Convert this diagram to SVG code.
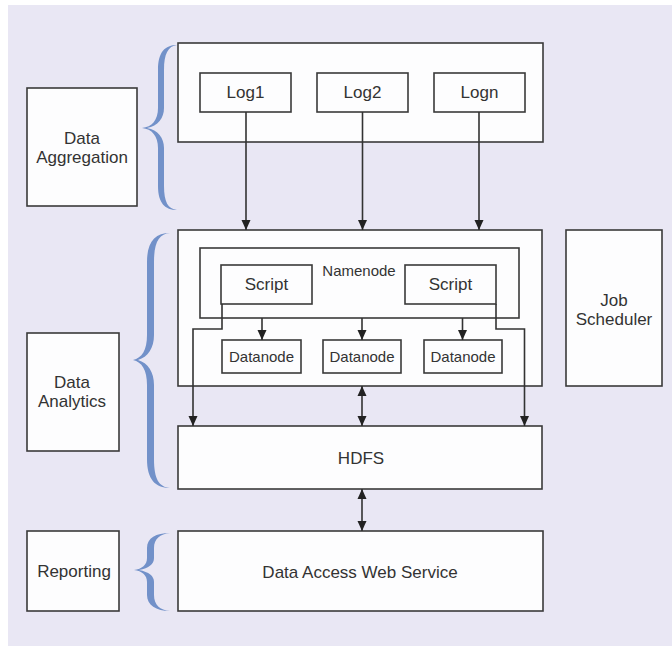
<svg xmlns="http://www.w3.org/2000/svg" width="672" height="646" viewBox="0 0 672 646">
<defs>
<style>
.bg{fill:#e9e7f4}
.box{fill:#fdfdfe;stroke:#3a3a3a;stroke-width:1.6}
.inner{fill:none;stroke:#3a3a3a;stroke-width:1.6}
.t{font-family:"Liberation Sans",Arial,sans-serif;font-size:17px;fill:#333;text-anchor:middle}
.s{font-size:15px}
.brace{fill:#7291c9}
.c{fill:none;stroke:#333;stroke-width:1.6}
</style>
<marker id="ah" markerWidth="10" markerHeight="12" refX="10" refY="6" orient="auto-start-reverse" markerUnits="userSpaceOnUse">
<path d="M0,1.5 L10,6 L0,10.5 Z" fill="#222"/>
</marker>
</defs>
<rect x="0" y="0" width="672" height="646" fill="#ffffff"/>
<rect class="bg" x="8" y="5" width="664" height="641"/>

<g id="braces">
<path class="brace" d="M177,45 C165,45 158,52 158,70 L158,108 C158,120 152,127 142,128 C152,129 158,136 158,148 L158,186 C158,203 165,210 177,210 C168,209 164,202 164,186 L164,148 C164,138 158,130 147,128 C158,126 164,118 164,108 L164,70 C164,54 168,46 177,45 Z"/>
<path class="brace" d="M170,233 C155,233 147,242 147,262 L147,335 C147,350 142,358 133,360 C142,362 147,370 147,385 L147,459 C147,479 155,488 170,488 C159,487 154,479 154,459 L154,385 C154,372 148,363 138,360 C148,357 154,348 154,335 L154,262 C154,242 159,234 170,233 Z"/>
<path class="brace" d="M170,533 C156,533 147,538 147,548 L147,558 C147,565 142,569 134,570 C142,571 147,575 147,582 L147,595 C147,605 156,611 170,611 C160,610 154,605 154,595 L154,582 C154,576 149,572 139,570 C149,568 154,564 154,558 L154,548 C154,539 160,534 170,533 Z"/>
</g>

<g id="data-aggregation">
<rect class="box" x="27" y="88" width="110" height="118"/>
<text class="t" x="82" y="144">Data</text>
<text class="t" x="82" y="163">Aggregation</text>
</g>
<g id="data-analytics">
<rect class="box" x="27" y="333" width="92" height="118"/>
<text class="t" x="72" y="388">Data</text>
<text class="t" x="72" y="407">Analytics</text>
</g>
<g id="reporting">
<rect class="box" x="27" y="531" width="92" height="80"/>
<text class="t" x="74" y="577">Reporting</text>
</g>
<g id="job-scheduler">
<rect class="box" x="566" y="230" width="96" height="156"/>
<text class="t" x="614" y="306">Job</text>
<text class="t" x="614" y="325">Scheduler</text>
</g>

<g id="aggregation-box">
<rect class="box" x="178" y="43" width="365" height="99"/>
</g>
<g id="log1">
<rect class="box" x="200" y="73" width="91" height="39"/>
<text class="t" x="245.5" y="98">Log1</text>
</g>
<g id="log2">
<rect class="box" x="317" y="73" width="91" height="39"/>
<text class="t" x="362.5" y="98">Log2</text>
</g>
<g id="logn">
<rect class="box" x="434" y="73" width="91" height="39"/>
<text class="t" x="479.5" y="98">Logn</text>
</g>

<g id="analytics-box">
<rect class="box" x="178" y="230" width="364" height="156"/>
</g>
<g id="namenode">
<rect class="inner" x="200" y="248" width="319" height="70"/>
<text class="t s" x="359" y="275.5">Namenode</text>
</g>
<g id="script-left">
<rect class="box" x="221" y="265" width="91" height="39"/>
<text class="t" x="266.5" y="290">Script</text>
</g>
<g id="script-right">
<rect class="box" x="405" y="265" width="91" height="39"/>
<text class="t" x="450.5" y="290">Script</text>
</g>
<g id="datanode1">
<rect class="box" x="222" y="340" width="79" height="33"/>
<text class="t s" x="261.5" y="362">Datanode</text>
</g>
<g id="datanode2">
<rect class="box" x="323" y="340" width="78" height="33"/>
<text class="t s" x="362" y="362">Datanode</text>
</g>
<g id="datanode3">
<rect class="box" x="424" y="340" width="78" height="33"/>
<text class="t s" x="463" y="362">Datanode</text>
</g>

<g id="hdfs">
<rect class="box" x="178" y="426" width="364" height="63"/>
<text class="t" x="361" y="464">HDFS</text>
</g>
<g id="daws">
<rect class="box" x="178" y="531" width="365" height="80"/>
<text class="t" x="360" y="577.5">Data Access Web Service</text>
</g>

<g id="connectors">
<line class="c" x1="246" y1="112" x2="246" y2="230" marker-end="url(#ah)"/>
<line class="c" x1="362.5" y1="112" x2="362.5" y2="230" marker-end="url(#ah)"/>
<line class="c" x1="479" y1="112" x2="479" y2="230" marker-end="url(#ah)"/>
<line class="c" x1="262" y1="318" x2="262" y2="340" marker-end="url(#ah)"/>
<line class="c" x1="362" y1="318" x2="362" y2="340" marker-end="url(#ah)"/>
<line class="c" x1="462.5" y1="318" x2="462.5" y2="340" marker-end="url(#ah)"/>
<polyline class="c" points="222,304 222,329 193,329 193,426" marker-end="url(#ah)"/>
<polyline class="c" points="496,304 496,329 524.5,329 524.5,426" marker-end="url(#ah)"/>
<line class="c" x1="362" y1="386" x2="362" y2="426" marker-start="url(#ah)" marker-end="url(#ah)"/>
<line class="c" x1="362" y1="489" x2="362" y2="531" marker-start="url(#ah)" marker-end="url(#ah)"/>
</g>
</svg>
